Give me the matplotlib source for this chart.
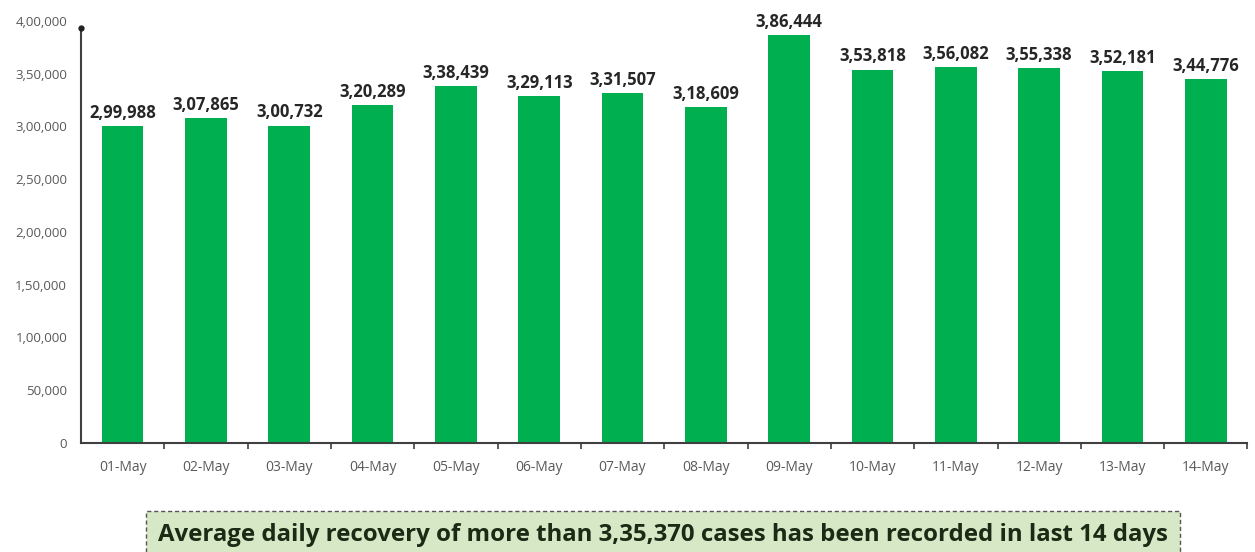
import matplotlib
matplotlib.use("Agg")
import matplotlib.pyplot as plt
import numpy as np

dates = ["01-May", "02-May", "03-May", "04-May", "05-May", "06-May", "07-May",
         "08-May", "09-May", "10-May", "11-May", "12-May", "13-May", "14-May"]
recoveries = [299988, 307865, 300732, 320289, 338439, 329113, 331507,
              318609, 386444, 353818, 356082, 355338, 352181, 344776]
yticks = [0, 50000, 100000, 150000, 200000, 250000, 300000, 350000, 400000]
note = "Average daily recovery of more than 3,35,370 cases has been recorded in last 14 days"


def indian_format(n):
    s = str(int(n))
    if len(s) <= 3:
        return s
    last3 = s[-3:]
    rest = s[:-3]
    parts = []
    while len(rest) > 2:
        parts.insert(0, rest[-2:])
        rest = rest[:-2]
    if rest:
        parts.insert(0, rest)
    return ",".join(parts) + "," + last3


plt.rcParams['font.family'] = ['Open Sans', 'DejaVu Sans']

fig = plt.figure(figsize=(12.55, 5.52), dpi=100)
ax = fig.add_axes([0.0645, 0.1975, 0.9295, 0.7645])

x = np.arange(len(dates))
ax.bar(x, recoveries, width=0.5, color="#00b050", zorder=2)

for xi, v in zip(x, recoveries):
    ax.text(xi, v + 4000, indian_format(v), ha="center", va="bottom",
            fontsize=12, fontweight="bold", color="#262626")

ax.set_xlim(-0.5, len(dates) - 0.5)
ax.set_ylim(0, 400000)
ax.set_yticks(yticks)
ax.set_yticklabels([indian_format(t) for t in yticks], fontsize=9.5, color="#595959")
ax.tick_params(axis="y", length=0, pad=10)

ax.set_xticks(x)
ax.set_xticklabels(dates, fontsize=10, color="#595959")
ax.tick_params(axis="x", length=0, pad=12)
ax.set_xticks(np.arange(len(dates)) + 0.5, minor=True)
ax.tick_params(axis="x", which="minor", length=4, width=1.2, color="#404040", direction="out")

for s in ["top", "right"]:
    ax.spines[s].set_visible(False)
ax.spines["left"].set_color("#404040")
ax.spines["left"].set_linewidth(1.5)
ax.spines["left"].set_bounds(0, 393000)
ax.spines["bottom"].set_color("#404040")
ax.spines["bottom"].set_linewidth(1.5)
ax.plot([-0.5], [393000], marker="o", markersize=3.5, color="#202020", clip_on=False, zorder=5)

# note box
fig.text(0.528, 0.031, note, ha="center", va="center", fontsize=17.3, fontweight="bold",
         color="#1a2a14",
         bbox=dict(boxstyle="square,pad=0.5", facecolor="#d6e8c6", edgecolor="#555555",
                   linestyle=(0, (3, 2)), linewidth=1.0))

fig.savefig("out.png", dpi=100)
